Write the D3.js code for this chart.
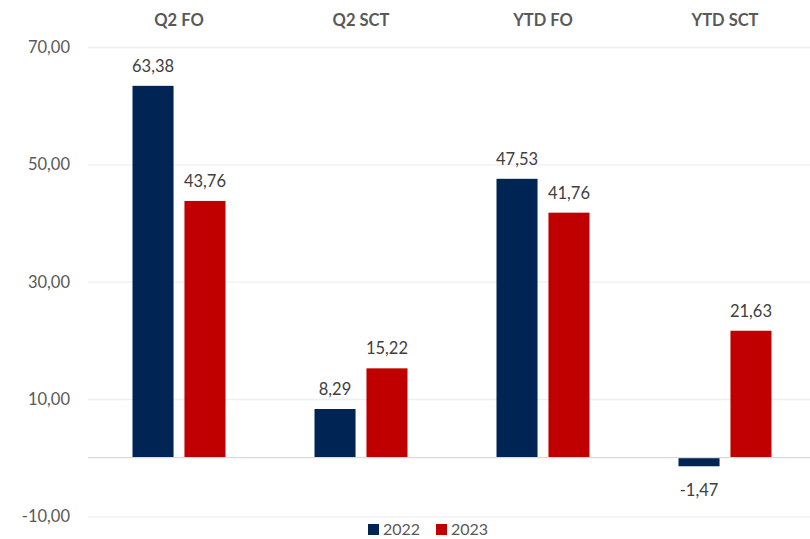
<!DOCTYPE html>
<html>
<head>
<meta charset="utf-8">
<script src="https://d3js.org/d3.v7.min.js"></script>
<style>
  body { margin: 0; background: #fff; }
  svg { font-family: Lato, "Open Sans", sans-serif; }
  .grid line { stroke: #efefef; stroke-width: 1.3; }
  .zero { stroke: #d9d9d9; stroke-width: 1.3; }
  .tick-label { fill: #595959; font-size: 16.5px; }
  .cat-label { fill: #595959; font-size: 16.5px; font-weight: bold; }
  .val-label { fill: #404040; font-size: 16.5px; }
  .legend text { fill: #595959; font-size: 16px; }
</style>
</head>
<body>
<svg id="chart"></svg>
<script>
const categories = ["Q2 FO", "Q2 SCT", "YTD FO", "YTD SCT"];
const series = ["2022", "2023"];
const values2022 = [63.38, 8.29, 47.53, -1.47];
const values2023 = [43.76, 15.22, 41.76, 21.63];
const yTicks = [-10, 10, 30, 50, 70];
const colors = ["#002554", "#c00000"];

const WIDTH  = 810;
const HEIGHT = 539;
const MARGIN = { top: 47, right: -6, bottom: 23, left: 88 };

const svg = d3.select('#chart')
  .attr('width', WIDTH)
  .attr('height', HEIGHT);

const x = d3.scaleBand()
  .domain(categories)
  .range([MARGIN.left, WIDTH - MARGIN.right]);

const inner = d3.scaleBand()
  .domain(series)
  .range([44.5, x.bandwidth() - 44.5])
  .paddingInner(0.21);

const y = d3.scaleLinear()
  .domain([-10, 70])
  .range([HEIGHT - MARGIN.bottom + 0.3, MARGIN.top]);

const fmt = v => d3.format('.2f')(v).replace('.', ',').replace('−', '-');

// gridlines
svg.append('g')
  .attr('class', 'grid')
  .attr('transform', 'translate(' + MARGIN.left + ',0)')
  .call(d3.axisLeft(y).tickValues(yTicks).tickSize(-(WIDTH - MARGIN.left)).tickFormat(''))
  .call(g => g.select('.domain').remove());

// y tick labels
svg.append('g')
  .selectAll('text')
  .data(yTicks)
  .join('text')
    .attr('class', 'tick-label')
    .attr('x', 70)
    .attr('y', d => y(d))
    .attr('dy', '0.36em')
    .attr('text-anchor', 'end')
    .text(d => fmt(d));

const rows = categories.map((c, i) => ({
  cat: c,
  vals: [
    { s: series[0], v: values2022[i] },
    { s: series[1], v: values2023[i] }
  ]
}));

const groups = svg.append('g')
  .selectAll('g')
  .data(rows)
  .join('g')
    .attr('transform', d => 'translate(' + x(d.cat) + ',0)');

groups.selectAll('rect')
  .data(d => d.vals)
  .join('rect')
    .attr('x', d => inner(d.s))
    .attr('width', inner.bandwidth())
    .attr('y', d => y(Math.max(0, d.v)))
    .attr('height', d => Math.abs(y(d.v) - y(0)))
    .attr('fill', (d, i) => colors[i]);

groups.selectAll('text.val-label')
  .data(d => d.vals)
  .join('text')
    .attr('class', 'val-label')
    .attr('x', d => inner(d.s) + inner.bandwidth() / 2)
    .attr('y', d => d.v >= 0 ? y(d.v) - 14 : y(d.v) + 30)
    .attr('text-anchor', 'middle')
    .text(d => fmt(d.v));

// zero line
svg.append('line')
  .attr('class', 'zero')
  .attr('x1', MARGIN.left)
  .attr('x2', WIDTH)
  .attr('y1', y(0))
  .attr('y2', y(0));

// category labels at top
svg.append('g')
  .selectAll('text')
  .data(categories)
  .join('text')
    .attr('class', 'cat-label')
    .attr('x', d => x(d) + x.bandwidth() / 2)
    .attr('y', 26)
    .attr('text-anchor', 'middle')
    .text(d => d);

// legend
const legend = svg.append('g').attr('class', 'legend');
const legendX = [368, 436];
series.forEach((s, i) => {
  legend.append('rect')
    .attr('x', legendX[i])
    .attr('y', 524)
    .attr('width', 11)
    .attr('height', 11)
    .attr('fill', colors[i]);
  legend.append('text')
    .attr('x', legendX[i] + 15)
    .attr('y', 535)
    .text(s);
});
</script>
</body>
</html>
